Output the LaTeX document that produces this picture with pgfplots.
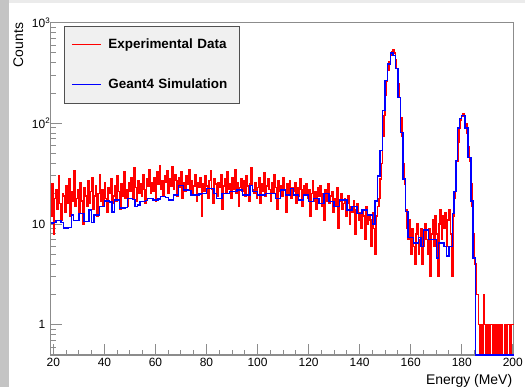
\documentclass[border=0pt]{standalone}
\usepackage{pgfplots}
\pgfplotsset{compat=1.18}
\usepackage{fontspec}
\setmainfont{Liberation Sans}
\definecolor{framegray}{HTML}{8C8C8C}
\definecolor{leftgray}{HTML}{C4C4C4}
\definecolor{topgray}{HTML}{EBEBEB}
\definecolor{legfill}{HTML}{F0F0F0}
\definecolor{legdraw}{HTML}{505050}
\definecolor{rootred}{HTML}{FF0000}
\definecolor{rootblue}{HTML}{0000FF}
\begin{document}
\begin{tikzpicture}
\useasboundingbox (-50.8bp,-32bp) rectangle (474.2bp,355bp);
\fill[white] (-50.8bp,-32bp) rectangle (474.2bp,355bp);
\fill[topgray] (-50.8bp,351.5bp) rectangle (474.2bp,355bp);
\fill[leftgray] (-50.8bp,-32bp) rectangle (-41.8bp,355bp);
\begin{axis}[
  scale only axis, width=463bp, height=332.3bp,
  xmin=19, xmax=200.4, ymin=0.5, ymax=1000, ymode=log,
  axis line style={draw=framegray, line width=1.2bp},
  tick align=inside, xtick pos=left, ytick pos=left,
  xtick={20,40,...,200}, minor x tick num=3,
  ytick={1,10,100,1000},
  yticklabels={1,10,10\rlap{\textsuperscript{2}},10\rlap{\textsuperscript{3}}},
  minor ytick={0.6,0.7,0.8,0.9,2,3,4,5,6,7,8,9,20,30,40,50,60,70,80,90,200,300,400,500,600,700,800,900},
  major tick length=11bp, minor tick length=5.5bp,
  tick style={draw=framegray, line width=1bp},
  /pgf/number format/assume math mode=true,
  every tick label/.append style={font=\fontsize{12}{14}\selectfont},
  yticklabel style={xshift=-2bp},
  xlabel={Energy (MeV)}, ylabel={Counts},
  xlabel style={at={(axis description cs:0.997,-0.058)}, anchor=north east, inner sep=0pt, font=\fontsize{14}{16}\selectfont},
  ylabel style={at={(axis description cs:-0.060,1)}, anchor=base east, inner sep=0pt, font=\fontsize{14}{16}\selectfont},
  legend style={at={(axis description cs:0.0285,0.990)}, anchor=north west, fill=legfill, draw=legdraw, line width=0.8bp,
    inner xsep=7bp, inner ysep=12bp, row sep=27.5bp, column sep=7bp,
    font=\bfseries\fontsize{13.5}{15}\selectfont,
    nodes={inner sep=0pt, text width=124bp, align=left, text height=9.7bp, text depth=2.8bp}},
  legend cell align=left,
  legend image code/.code={\draw[#1, line width=1bp] (0bp,0bp) -- (29bp,0bp);},
]
\addplot[const plot, draw=rootred, line width=1.5bp] coordinates {
(19,12)(19.5,25)(20,8)(20.5,18)(21,22)(21.5,14)(22,30)(22.5,16)(23,11)(23.5,20)
(24,19)(24.5,13)(25,24)(25.5,16)(26,28)(26.5,12)(27,21)(27.5,17)(28,34)(28.5,15)
(29,18)(29.5,22)(30,13)(30.5,26)(31,17)(31.5,10)(32,23)(32.5,19)(33,15)(33.5,27)
(34,16)(34.5,21)(35,29)(35.5,14)(36,19)(36.5,24)(37,12)(37.5,20)(38,31)(38.5,17)
(39,22)(39.5,15)(40,26)(40.5,18)(41,13)(41.5,23)(42,20)(42.5,28)(43,16)(43.5,19)
(44,24)(44.5,17)(45,30)(45.5,21)(46,14)(46.5,25)(47,19)(47.5,33)(48,18)(48.5,22)
(49,15)(49.5,26)(50,21)(50.5,29)(51,18)(51.5,36)(52,23)(52.5,17)(53,27)(53.5,20)
(54,25)(54.5,19)(55,31)(55.5,22)(56,16)(56.5,28)(57,24)(57.5,35)(58,20)(58.5,26)
(59,21)(59.5,29)(60,17)(60.5,33)(61,25)(61.5,38)(62,22)(62.5,27)(63,19)(63.5,30)
(64,26)(64.5,34)(65,20)(65.5,28)(66,24)(66.5,37)(67,22)(67.5,31)(68,27)(68.5,19)
(69,29)(69.5,23)(70,33)(70.5,18)(71,26)(71.5,21)(72,30)(72.5,25)(73,35)(73.5,22)
(74,27)(74.5,20)(75,24)(75.5,31)(76,17)(76.5,26)(77,23)(77.5,29)(78,12)(78.5,25)
(79,21)(79.5,30)(80,24)(80.5,18)(81,27)(81.5,34)(82,22)(82.5,16)(83,28)(83.5,25)
(84,19)(84.5,26)(85,23)(85.5,31)(86,14)(86.5,24)(87,28)(87.5,20)(88,33)(88.5,22)
(89,25)(89.5,18)(90,29)(90.5,22)(91,35)(91.5,20)(92,26)(92.5,15)(93,23)(93.5,28)
(94,21)(94.5,27)(95,19)(95.5,30)(96,24)(96.5,17)(97,25)(97.5,36)(98,22)(98.5,20)
(99,26)(99.5,18)(100,23)(100.5,29)(101,16)(101.5,25)(102,21)(102.5,32)(103,19)(103.5,24)
(104,28)(104.5,22)(105,17)(105.5,26)(106,20)(106.5,31)(107,23)(107.5,14)(108,27)(108.5,21)
(109,24)(109.5,19)(110,29)(110.5,22)(111,13)(111.5,25)(112,20)(112.5,27)(113,18)(113.5,23)
(114,21)(114.5,26)(115,16)(115.5,23)(116,19)(116.5,28)(117,22)(117.5,15)(118,24)(118.5,20)
(119,25)(119.5,18)(120,22)(120.5,12)(121,20)(121.5,27)(122,17)(122.5,21)(123,14)(123.5,23)
(124,19)(124.5,24)(125,15)(125.5,20)(126,11)(126.5,22)(127,17)(127.5,25)(128,16)(128.5,19)
(129,21)(129.5,13)(130,18)(130.5,15)(131,23)(131.5,9)(132,17)(132.5,20)(133,14)(133.5,16)
(134,18)(134.5,12)(135,16)(135.5,19)(136,10)(136.5,15)(137,13)(137.5,17)(138,8)(138.5,14)
(139,16)(139.5,11)(140,13)(140.5,9)(141,14)(141.5,12)(142,7)(142.5,15)(143,10)(143.5,12)
(144,11)(144.5,6)(145,13)(145.5,9)(146,5)(146.5,12)
(147,15)(147.5,18)(148,28)(148.5,40)(149,75)(149.5,120)(150,190)(150.5,260)(151,340)(151.5,410)
(152,470)(152.5,520)(153,540)(153.5,500)(154,430)(154.5,350)(155,250)(155.5,180)(156,115)(156.5,75)
(157,40)(157.5,25)(158,14)(158.5,9)
(159,7)(159.5,11)(160,5)(160.5,9)(161,6)(161.5,4)(162,8)(162.5,10)(163,5)(163.5,7)
(164,9)(164.5,4)(165,6)(165.5,10)(166,7)(166.5,5)(167,9)(167.5,3)(168,8)(168.5,11)
(169,6)(169.5,12)(170,8)(170.5,3)(171,10)(171.5,14)(172,7)(172.5,12)(173,9)(173.5,13)
(174,6)(174.5,11)(175,14)(175.5,8)(176,3)(176.5,12)
(177,18)(177.5,28)(178,42)(178.5,65)(179,90)(179.5,108)(180,118)(180.5,125)(181,115)(181.5,100)
(182,80)(182.5,58)(183,42)(183.5,25)(184,15)(184.5,8)(185,4)(185.5,2)
(186,2)(186.5,1)(187,0.5)(187.5,1)(188,0.5)(188.5,2)(189,1)(189.5,0.5)(190,1)(190.5,0.5)
(191,1)(191.5,1)(192,0.5)(192.5,1)(193,0.5)(193.5,1)(194,0.5)(194.5,1)(195,0.5)(195.5,1)
(196,0.5)(196.5,0.5)(197,1)(197.5,0.5)(198,1)(198.5,1)(199,0.5)(199.5,1)(200,1)(200.4,1)
};
\addlegendentry{Experimental Data}
\addplot[const plot, draw=rootblue, line width=1.4bp] coordinates {
(19,10.2)(20,10.4)(21,10.9)(22,10.9)(23,10.3)(24,9.1)(25,9.1)(26,9.3)(27,12.3)(28,10.9)
(29,10.9)(30,12.8)(31,12.8)(32,10.6)(33,10.6)(34,13.8)(35,10.4)(36,12.3)(37,12.3)(38,14.9)
(39,14.9)(40,17)(41,17)(42,16.5)(43,13.2)(44,17.4)(45,17.4)(46,14.4)(47,14.4)(48,14.6)
(49,18)(50,18)(51,17.6)(52,14.9)(53,15.5)(54,16.7)(55,16.7)(56,17.2)(57,18)(58,18)
(59,17.4)(60,17.4)(61,17.8)(62,18.7)(63,18.7)(64,18.4)(65,17.4)(66,17.4)(67,19.4)(68,19.4)
(69,24.3)(70,24.3)(71,21.7)(72,21.7)(73,21.5)(74,19.4)(75,19.4)(76,19.4)(77,19.8)(78,20.1)
(79,20.1)(80,22.6)(81,22.6)(82,22.6)(83,20)(84,18)(85,18)(86,20)(87,20)(88,20)
(89,21)(90,21)(91,21)(92,21.7)(93,21.7)(94,19.4)(95,19.4)(96,19.4)(97,24.3)(98,21)
(99,21)(100,19.4)(101,19.4)(102,19.4)(103,20)(104,20)(105,20)(106,20)(107,18)(108,18)
(109,21.7)(110,21.7)(111,19.4)(112,19.4)(113,22.6)(114,19.4)(115,19.4)(116,17.4)(117,17.4)(118,19.4)
(119,19.4)(120,16.7)(121,16.7)(122,18)(123,18)(124,16)(125,16)(126,20)(127,20)(128,16.7)
(129,16.7)(130,15)(131,15)(132,17.4)(133,17.4)(134,17.4)(135,13.8)(136,13.8)(137,14.9)(138,14.9)
(139,12.8)(140,12.8)(141,13.8)(142,13.8)(143,12.3)(144,12.3)(145,10)(146,17)(147,30)(148,54)
(149,134)(150,266)(151,390)(152,500)(153,470)(154,350)(155,180)(156,81)(157,28)(158,13.3)
(159,7.3)(160,7.3)(161,6.5)(162,6.5)(163,7.3)(164,6)(165,8.7)(166,8.7)(167,7)(168,7)
(169,7)(170,4.6)(171,6.5)(172,6.5)(173,6)(174,4.8)(175,6)(176.3,12.8)(177,21)(177.7,43)
(178.4,90)(179.2,112)(180,120)(181.3,90)(182.4,46)(183.6,17)(184.4,4.6)(185.5,0.5)(200.4,0.5)
};
\addlegendentry{Geant4 Simulation}
\end{axis}
\end{tikzpicture}
\end{document}
